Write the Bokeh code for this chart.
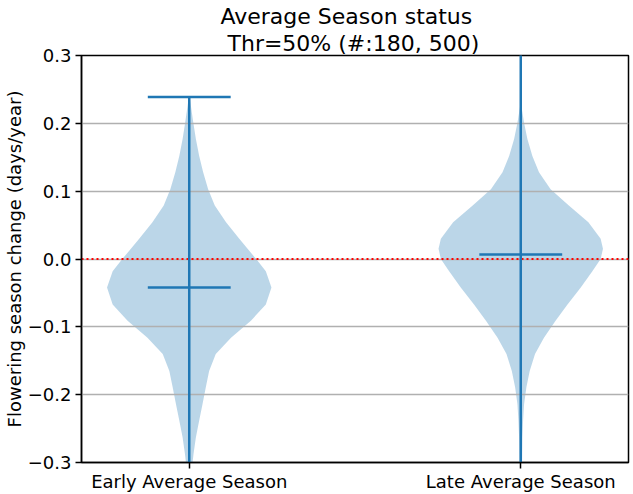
from bokeh.plotting import figure
from bokeh.models import FixedTicker, Title
from bokeh.embed import file_html
from bokeh.resources import INLINE

# ---- data ----
categories = ["Early Average Season", "Late Average Season"]
positions = [1, 2]

# violin outline: value (y) and half-width (x units) of the density body
early_y = [0.239, 0.236, 0.202, 0.177, 0.152, 0.128, 0.103, 0.079, 0.054, 0.030,
           0.015, 0.005, 0.000, -0.018, -0.042, -0.067, -0.091, -0.116, -0.140,
           -0.165, -0.189, -0.214, -0.238, -0.263, -0.287, -0.300, -0.330]
early_w = [0.000, 0.002, 0.012, 0.020, 0.030, 0.042, 0.057, 0.077, 0.111, 0.151,
           0.176, 0.193, 0.202, 0.231, 0.248, 0.231, 0.186, 0.126, 0.080,
           0.060, 0.050, 0.040, 0.030, 0.020, 0.013, 0.010, 0.004]

late_y = [0.231, 0.201, 0.177, 0.152, 0.128, 0.103, 0.079, 0.054, 0.030, 0.015,
          0.000, -0.018, -0.042, -0.067, -0.091, -0.116, -0.140, -0.165, -0.189,
          -0.214, -0.238, -0.263, -0.300, -0.330]
late_w = [0.000, 0.010, 0.020, 0.035, 0.055, 0.090, 0.145, 0.204, 0.241, 0.248,
          0.241, 0.216, 0.181, 0.141, 0.105, 0.070, 0.043, 0.027, 0.017,
          0.010, 0.007, 0.005, 0.004, 0.003]

means = [-0.042, 0.0066]
maxima = [0.2387, 0.34]
minima = [-0.36, -0.35]

y_ticks = [-0.3, -0.2, -0.1, 0.0, 0.1, 0.2, 0.3]
y_tick_labels = ["\u22120.3", "\u22120.2", "\u22120.1", "0.0", "0.1", "0.2", "0.3"]

title_line1 = "Average Season status"
title_line2 = " Thr=50% (#:180, 500)"
y_label = "Flowering season change (days/year)"

C0 = "#1f77b4"
FONT = "DejaVu Sans"

p = figure(width=633, height=494, output_backend="svg", toolbar_location=None,
           x_range=(0.675, 2.325), y_range=(-0.3, 0.3), title=None)
p.min_border_left = 80
p.min_border_right = 5
p.min_border_top = 55
p.min_border_bottom = 30
p.background_fill_color = "white"
p.border_fill_color = "white"
p.outline_line_color = "black"
p.outline_line_width = 1.5

t2 = Title(text=title_line2, align="left", offset=146, text_font=FONT, text_font_size="22px",
           text_font_style="normal", text_color="black", standoff=0, text_line_height=1.1)
t1 = Title(text=title_line1, align="left", offset=139, text_font=FONT, text_font_size="22px",
           text_font_style="normal", text_color="black", standoff=0, text_line_height=1.1)
p.add_layout(t2, "above")
p.add_layout(t1, "above")

# violins
bodies = [(early_y, early_w), (late_y, late_w)]
for pos, (ys, ws) in zip(positions, bodies):
    xr = [pos + w for w in ws]
    xl = [pos - w for w in ws]
    xs = xr + xl[::-1]
    yy = list(ys) + list(ys)[::-1]
    p.patch(xs, yy, fill_color=C0, fill_alpha=0.3, line_color=None, level="image")

# zero line
p.line([0.675, 2.325], [0, 0], line_color="red", line_width=1.8, line_dash="2 3")

# extrema bars, caps, means
cap = 0.125
p.segment(x0=positions, y0=minima, x1=positions, y1=maxima, line_color=C0, line_width=2.5)
p.segment(x0=[x - cap for x in positions], y0=maxima, x1=[x + cap for x in positions], y1=maxima,
          line_color=C0, line_width=2.5)
p.segment(x0=[x - cap for x in positions], y0=minima, x1=[x + cap for x in positions], y1=minima,
          line_color=C0, line_width=2.5)
p.segment(x0=[x - cap for x in positions], y0=means, x1=[x + cap for x in positions], y1=means,
          line_color=C0, line_width=2.5)

# grid
p.xgrid.visible = False
p.ygrid.grid_line_color = "#b0b0b0"
p.ygrid.grid_line_width = 1.5
p.ygrid.level = "underlay"

# axes
p.xaxis.ticker = FixedTicker(ticks=positions)
p.xaxis.major_label_overrides = {pos: lab for pos, lab in zip(positions, categories)}
p.yaxis.ticker = FixedTicker(ticks=y_ticks)
p.yaxis.major_label_overrides = {t: lab for t, lab in zip(y_ticks, y_tick_labels)}
p.yaxis.axis_label = y_label
for ax in (p.xaxis, p.yaxis):
    ax.axis_line_color = "black"
    ax.axis_line_width = 1.5
    ax.major_tick_line_color = "black"
    ax.major_tick_line_width = 1.5
    ax.major_tick_out = 6
    ax.major_tick_in = 0
    ax.minor_tick_out = 0
    ax.minor_tick_in = 0
    ax.major_label_text_font = FONT
    ax.major_label_text_font_size = "18px"
    ax.major_label_text_color = "black"
    ax.axis_label_text_font = FONT
    ax.axis_label_text_font_size = "18px"
    ax.axis_label_text_font_style = "normal"
    ax.axis_label_text_color = "black"
p.yaxis.major_label_standoff = 4
p.yaxis.axis_label_standoff = 0
p.xaxis.major_label_standoff = 2

open("out.html", "w").write(file_html(p, INLINE))
